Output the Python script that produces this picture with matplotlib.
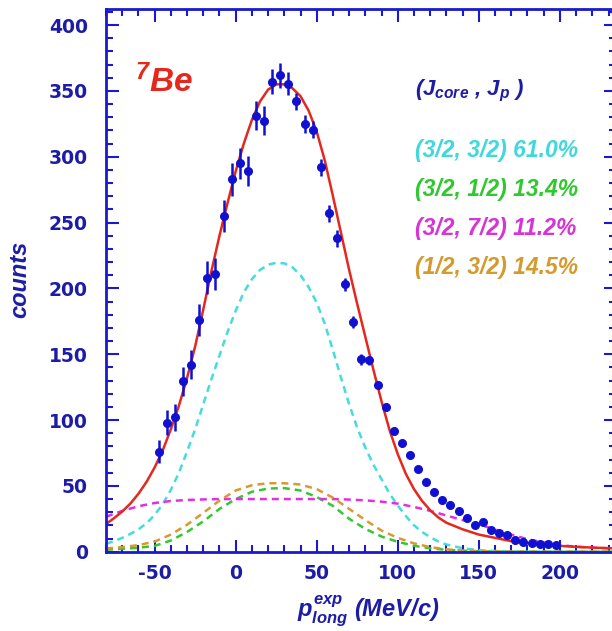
import matplotlib
matplotlib.use("Agg")
import matplotlib.pyplot as plt

# measured momentum distribution (5 MeV/c bins)
p_bins = [-47.5, -42.5, -37.5, -32.5, -27.5, -22.5, -17.5, -12.5, -7.5, -2.5,
          2.5, 7.5, 12.5, 17.5, 22.5, 27.5, 32.5, 37.5, 42.5, 47.5,
          52.5, 57.5, 62.5, 67.5, 72.5, 77.5, 82.5, 87.5, 92.5, 97.5,
          102.5, 107.5, 112.5, 117.5, 122.5, 127.5, 132.5, 137.5, 142.5, 147.5,
          152.5, 157.5, 162.5, 167.5, 172.5, 177.5, 182.5, 187.5, 192.5, 197.5]
counts = [76, 98, 102, 129.5, 142, 176, 208, 211, 255, 283,
          295, 289, 331, 327.5, 357, 362, 355.5, 342, 325, 320.5,
          292, 257, 238, 203, 174.5, 146, 145.3, 126.5, 110, 92,
          82.6, 73.2, 63, 53.3, 45.7, 39.4, 35.3, 31.2, 25.4, 20.3,
          22.9, 16.5, 14.5, 12.7, 8.9, 7.4, 6.4, 5.6, 5.6, 5.3]
errors = [9, 9.5, 10, 11, 11, 12, 12.5, 12, 12, 12.5,
          12, 11.5, 11, 11, 9.5, 9.5, 8.5, 6.5, 7, 6.5,
          6.5, 6.5, 6.3, 5, 4.5, 4, 3.5, 3, 3, 2.5,
          2.5, 2, 2, 2, 1.5, 1.5, 1.5, 1.5, 1.2, 1.2,
          1.2, 1, 1, 1, 0.8, 0.8, 0.8, 0.7, 0.7, 0.7]

# total fit and (3/2,3/2) component
fit_x = [-80, -75, -70, -65, -60, -55, -50, -45, -40, -35, -30, -25, -20, -15, -10, -5,
         0, 5, 10, 15, 20, 25, 30, 35, 40, 45, 50, 55, 60, 65, 70, 75, 80, 85, 90, 95,
         100, 105, 110, 115, 120, 125, 130, 140, 150, 160, 170, 180, 190, 200, 210, 220, 235]
fit_total = [21, 25.5, 30.5, 36.5, 44, 53, 64, 77, 93, 111, 132, 156, 184, 213, 240, 265,
             289, 310, 328, 342, 351, 355, 355, 352, 346, 335, 319, 297, 270, 242, 214, 188, 163, 138, 114, 92,
             74, 59, 47.5, 38.5, 31.5, 26, 22, 17, 13, 10.5, 8, 6.5, 5.3, 4.4, 3.7, 3.1, 2.5]
comp_33 = [6, 8, 10.5, 13.5, 17, 21.5, 28, 36, 47, 60, 76, 93, 112, 131, 149, 167,
           183, 197, 207, 214, 218, 219.5, 219, 216, 210, 201, 189, 173, 153, 132, 112, 94, 79, 66, 55, 44,
           35, 27, 20, 15, 11, 7.8, 5.5, 2.6, 1.2, 0.5, 0.2, 0.1, 0, 0, 0, 0, 0]

# smaller components
comp_x = [-80, -70, -60, -50, -40, -30, -20, -10, 0, 10, 20, 30, 40, 50, 60, 70, 80,
          90, 100, 110, 120, 130, 140, 150, 160, 170, 180, 190, 200, 210, 220, 230, 235]
comp_31 = [1.5, 2.2, 3, 4.4, 8.5, 15, 23, 32.5, 40, 45.5, 48, 48.3, 46.5, 41.5, 34.8, 25, 17.3,
           11.5, 7.5, 4.5, 2.6, 1.4, 0.7, 0.3, 0.1, 0.05, 0, 0, 0, 0, 0, 0, 0]
comp_37 = [26.5, 31, 34.5, 37, 38.5, 39.3, 39.7, 40, 40, 40, 40, 40, 40, 40, 40, 39.6, 39,
           38, 36.5, 34, 31, 27.5, 24, 20.5, 17, 13, 9.5, 7, 5, 3.8, 3, 2.6, 2.4]
comp_13 = [2.5, 3.5, 5, 7.7, 13, 20.5, 29.5, 38.8, 46.5, 50.5, 52, 52, 51, 47.5, 41, 32.5, 24,
           16, 10.5, 6.3, 3.5, 1.8, 0.9, 0.4, 0.2, 0.1, 0, 0, 0, 0, 0, 0, 0]

labels = ["(3/2, 3/2) 61.0%", "(3/2, 1/2) 13.4%", "(3/2, 7/2) 11.2%", "(1/2, 3/2) 14.5%"]
label_colors = ["#3fd8dc", "#2fc82f", "#d634d6", "#d49a2c"]

plt.rcParams['axes.unicode_minus'] = False
plt.rcParams['mathtext.fontset'] = 'custom'
plt.rcParams['mathtext.it'] = 'Liberation Sans:bold:italic'
plt.rcParams['mathtext.rm'] = 'Liberation Sans:bold:italic'
plt.rcParams['mathtext.bf'] = 'Liberation Sans:bold:italic'

axis_blue = '#1a1acc'
label_blue = '#1c1ca6'

fig = plt.figure(figsize=(6.12, 6.31), dpi=100)
ax = fig.add_axes([106 / 612, 79.3 / 631, 510 / 612, 542.4 / 631])

dash = (0, (2.8, 2.0))
ax.plot(fit_x, comp_33, color='#44dcdc', lw=1.8, ls=dash)
ax.plot(comp_x, comp_31, color='#33c833', lw=1.8, ls=dash)
ax.plot(comp_x, comp_37, color='#e030e0', lw=1.8, ls=dash)
ax.plot(comp_x, comp_13, color='#d89a30', lw=1.8, ls=dash)
ax.plot(fit_x, fit_total, color='#e4281e', lw=1.8)
ax.errorbar(p_bins, counts, yerr=errors, fmt='o', color='#1010d0', ms=5.5,
            elinewidth=1.8, capsize=0, zorder=5)

ax.set_xlim(-80, 234.6)
ax.set_ylim(0, 412)
ax.set_xticks([-50, 0, 50, 100, 150, 200])
ax.set_xticks(range(-80, 235, 10), minor=True)
ax.set_yticks(range(0, 401, 50))
ax.set_yticks(range(0, 411, 10), minor=True)

for s in ax.spines.values():
    s.set_color(axis_blue)
    s.set_linewidth(2)
ax.tick_params(which='both', direction='in', top=True, right=True, color=axis_blue, width=1.5)
ax.tick_params(which='major', length=9)
ax.tick_params(which='minor', length=5)
ax.tick_params(axis='y', pad=13, labelsize=13.5, labelcolor=label_blue)
ax.tick_params(axis='x', pad=9, labelsize=13.5, labelcolor=label_blue)
plt.setp(ax.get_xticklabels() + ax.get_yticklabels(), fontweight='bold')

txt = dict(family='Liberation Sans', weight='bold', style='italic')
ax.text(0.057, 0.8475, r"$^{7}$Be", transform=ax.transAxes, color='#e4281e',
        fontsize=24, va='baseline', **txt)
ax.text(0.606, 0.842, r"($J_{core}$ , $J_{p}$ )", transform=ax.transAxes,
        color=label_blue, fontsize=16, va='baseline', **txt)
for i, (lab, col) in enumerate(zip(labels, label_colors)):
    ax.text(0.606, 0.7268 - i * 0.0719, lab, transform=ax.transAxes, color=col,
            fontsize=16.5, va='baseline', **txt)

fig.text(20 / 612, 1 - 279 / 631, "counts", rotation=90, ha='center', va='center',
         color=label_blue, fontsize=17, **txt)
fig.text(368 / 612, 1 - 617 / 631, r"$p^{exp}_{long}$ (MeV/c)", ha='center', va='baseline',
         color=label_blue, fontsize=17, **txt)

fig.savefig("out.png", dpi=100)
